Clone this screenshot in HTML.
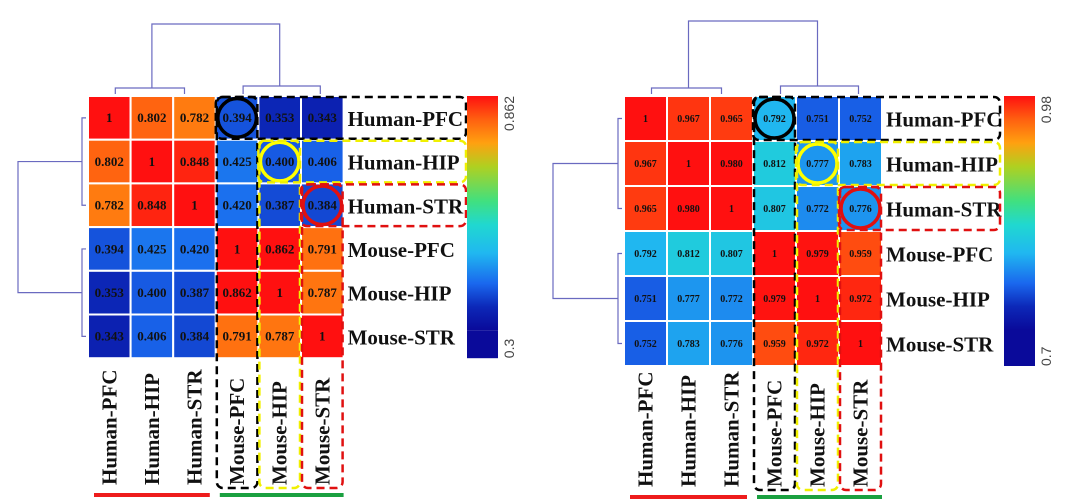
<!DOCTYPE html>
<html><head><meta charset="utf-8">
<style>
html,body{margin:0;padding:0;background:#fff;}
svg{display:block;font-family:"Liberation Serif",serif;}
</style></head>
<body>
<svg id="chart" width="1080" height="501" viewBox="0 0 1080 501" xmlns="http://www.w3.org/2000/svg">
<defs>
<linearGradient id="gradL" x1="0" y1="1" x2="0" y2="0">
<stop offset="0" stop-color="#0a0a9a"/><stop offset="0.1" stop-color="#0c28b8"/><stop offset="0.2" stop-color="#1a68ee"/><stop offset="0.33" stop-color="#20b8f0"/><stop offset="0.45" stop-color="#20d8d0"/><stop offset="0.55" stop-color="#40e080"/><stop offset="0.7" stop-color="#b0d020"/><stop offset="0.8" stop-color="#ffa010"/><stop offset="0.9" stop-color="#ff6010"/><stop offset="1" stop-color="#ff1010"/>
</linearGradient>
</defs>
</svg>
<script>
const labels = ["Human-PFC","Human-HIP","Human-STR","Mouse-PFC","Mouse-HIP","Mouse-STR"];
const valuesLeft = [
 [1,0.802,0.782,0.394,0.353,0.343],
 [0.802,1,0.848,0.425,0.400,0.406],
 [0.782,0.848,1,0.420,0.387,0.384],
 [0.394,0.425,0.420,1,0.862,0.791],
 [0.353,0.400,0.387,0.862,1,0.787],
 [0.343,0.406,0.384,0.791,0.787,1]];
const textLeft = [
 ["1","0.802","0.782","0.394","0.353","0.343"],
 ["0.802","1","0.848","0.425","0.400","0.406"],
 ["0.782","0.848","1","0.420","0.387","0.384"],
 ["0.394","0.425","0.420","1","0.862","0.791"],
 ["0.353","0.400","0.387","0.862","1","0.787"],
 ["0.343","0.406","0.384","0.791","0.787","1"]];
const rangeLeft = [0.3, 0.862];
const valuesRight = [
 [1,0.967,0.965,0.792,0.751,0.752],
 [0.967,1,0.980,0.812,0.777,0.783],
 [0.965,0.980,1,0.807,0.772,0.776],
 [0.792,0.812,0.807,1,0.979,0.959],
 [0.751,0.777,0.772,0.979,1,0.972],
 [0.752,0.783,0.776,0.959,0.972,1]];
const textRight = [
 ["1","0.967","0.965","0.792","0.751","0.752"],
 ["0.967","1","0.980","0.812","0.777","0.783"],
 ["0.965","0.980","1","0.807","0.772","0.776"],
 ["0.792","0.812","0.807","1","0.979","0.959"],
 ["0.751","0.777","0.772","0.979","1","0.972"],
 ["0.752","0.783","0.776","0.959","0.972","1"]];
const rangeRight = [0.7, 0.98];

const NS="http://www.w3.org/2000/svg";
const svg=document.getElementById('chart');
function el(tag,attrs,parent){const e=document.createElementNS(NS,tag);for(const k in attrs)e.setAttribute(k,attrs[k]);(parent||svg).appendChild(e);return e;}
const stops=[[0,[10,10,154]],[0.1,[12,40,184]],[0.2,[26,104,238]],[0.33,[32,184,240]],[0.45,[32,216,208]],[0.55,[64,224,128]],[0.7,[176,208,32]],[0.8,[255,160,16]],[0.9,[255,96,16]],[1,[255,16,16]]];
function color(v,r){let t=(v-r[0])/(r[1]-r[0]);t=Math.max(0,Math.min(1,t));
 for(let i=1;i<stops.length;i++){if(t<=stops[i][0]){const a=stops[i-1],b=stops[i];const f=(t-a[0])/(b[0]-a[0]);
 const c=a[1].map((x,j)=>Math.round(x+(b[1][j]-x)*f));return `rgb(${c[0]},${c[1]},${c[2]})`;}}return 'rgb(255,16,16)';}

function panel(P){
 const g=el('g',{});
 
 
 const xs=i=>P.x0+i*P.cw, ys=i=>P.y0+i*P.ch;
 const dg=el('g',{stroke:'#6a6ac0','stroke-width':1.2,fill:'none'},g);
 
 
 const c=i=>xs(i)+P.cw/2, r=i=>ys(i)+P.ch/2;
 const m1=(c(0)+c(2))/2, m2=(c(3)+c(5))/2;
 el('path',{d:`M${m1} ${P.y0-8}V${P.topY}H${m2}V${P.y0-10}`},dg);
 el('path',{d:`M${c(0)+6} ${P.y0-2}V${P.y0-8}H${c(2)-10}V${P.y0-2}M${c(3)+6} ${P.y0-2}V${P.y0-10}H${c(5)-2}V${P.y0-2}`},dg);
 const r1=(r(0)+r(2))/2, r2=(r(3)+r(5))/2;
 el('path',{d:`M${P.x0-6} ${r1}H${P.leftX}V${r2}H${P.x0-6}`},dg);
 el('path',{d:`M${P.x0-2} ${r(0)}H${P.x0-6}V${r(2)}H${P.x0-2}M${P.x0-2} ${r(3)}H${P.x0-6}V${r(5)}H${P.x0-2}`},dg);
 for(let i=0;i<6;i++)for(let j=0;j<6;j++){
  const rc=el('rect',{x:xs(j),y:ys(i),width:P.cw,height:P.ch,fill:color(P.vals[i][j],P.range),stroke:'#fff','stroke-width':2},g);
  
  
 }
 const circ=['#000','#ffff00','#e01010'];
 for(let k=0;k<3;k++){
  const ci=el('circle',{cx:c(3+k),cy:r(k),r:Math.min(P.cw,P.ch)/2-2,fill:'none',stroke:circ[k],'stroke-width':3.5},g);
  
  
 }
 for(let i=0;i<6;i++)for(let j=0;j<6;j++){
  const t=el('text',{x:c(j),y:r(i)+P.fs/3,'text-anchor':'middle','font-size':P.fs,'font-weight':'bold',fill:'#111'},g);
  t.textContent=P.txt[i][j];
  
  
 }
 for(let i=0;i<6;i++){
  const t=el('text',{x:P.x0+6*P.cw+4,y:r(i)+8,'font-size':21,'font-weight':'bold',fill:'#111'},g);
  t.textContent=labels[i];
  
  
 }
 for(let j=0;j<6;j++){
  const t=el('text',{x:0,y:0,transform:`translate(${c(j)+7},${P.colBottom}) rotate(-90)`,'font-size':21,'font-weight':'bold',fill:'#111'},g);
  t.textContent=labels[j];
  
  
 }
 const bc=['#000','#f0f000','#e01010'];
 for(let k=0;k<3;k++){
  const x=xs(3+k), y=ys(k);
  const bx=el('rect',{x:x,y:y+1,width:P.boxR-x,height:P.ch-2,rx:6,fill:'none',stroke:bc[k],'stroke-width':2.5,'stroke-dasharray':'8 5'},g);
  
  
  const by=el('rect',{x:x+1,y:y+1,width:P.cw-2,height:P.colBottom+2-y,rx:6,fill:'none',stroke:bc[k],'stroke-width':2.5,'stroke-dasharray':'8 5'},g);
  
  
 }
 const rb=el('rect',{x:xs(0)+6,y:P.colBottom+8,width:3*P.cw-12,height:4,fill:'#ee1c1c'},g);
 
 
 const gb=el('rect',{x:xs(3)+4,y:P.colBottom+8,width:3*P.cw-4,height:4,fill:'#1aa040'},g);
 
 
 const cbH=P.ch*6;
 const cb=el('rect',{x:P.cbX,y:P.y0,width:31,height:cbH-P.dark,fill:'url(#gradL)'},g);
 
 
 el('rect',{x:P.cbX,y:P.y0+cbH-P.dark,width:31,height:P.dark,fill:'#0a0a9a'},g);
 const tt=el('text',{transform:`translate(${P.cbX+47},${P.y0}) rotate(-90)`,'text-anchor':'end','font-size':14,fill:'#444','font-family':'Liberation Sans, sans-serif'},g);
 tt.textContent=String(P.range[1]);
 
 
 const tb=el('text',{transform:`translate(${P.cbX+47},${P.y0+cbH}) rotate(-90)`,'text-anchor':'start','font-size':14,fill:'#444','font-family':'Liberation Sans, sans-serif'},g);
 tb.textContent=String(P.range[0]);
 
 
}
panel({name:'left-heatmap',x0:88,y0:96,cw:42.6,ch:43.7,vals:valuesLeft,txt:textLeft,range:rangeLeft,fs:13,topY:24,leftX:18,colBottom:485,boxR:466,cbX:467,dark:28});
panel({name:'right-heatmap',x0:624,y0:96,cw:43,ch:45,vals:valuesRight,txt:textRight,range:rangeRight,fs:10,topY:21,leftX:553,colBottom:487,boxR:1000,cbX:1004,dark:36});
</script>
</body></html>
